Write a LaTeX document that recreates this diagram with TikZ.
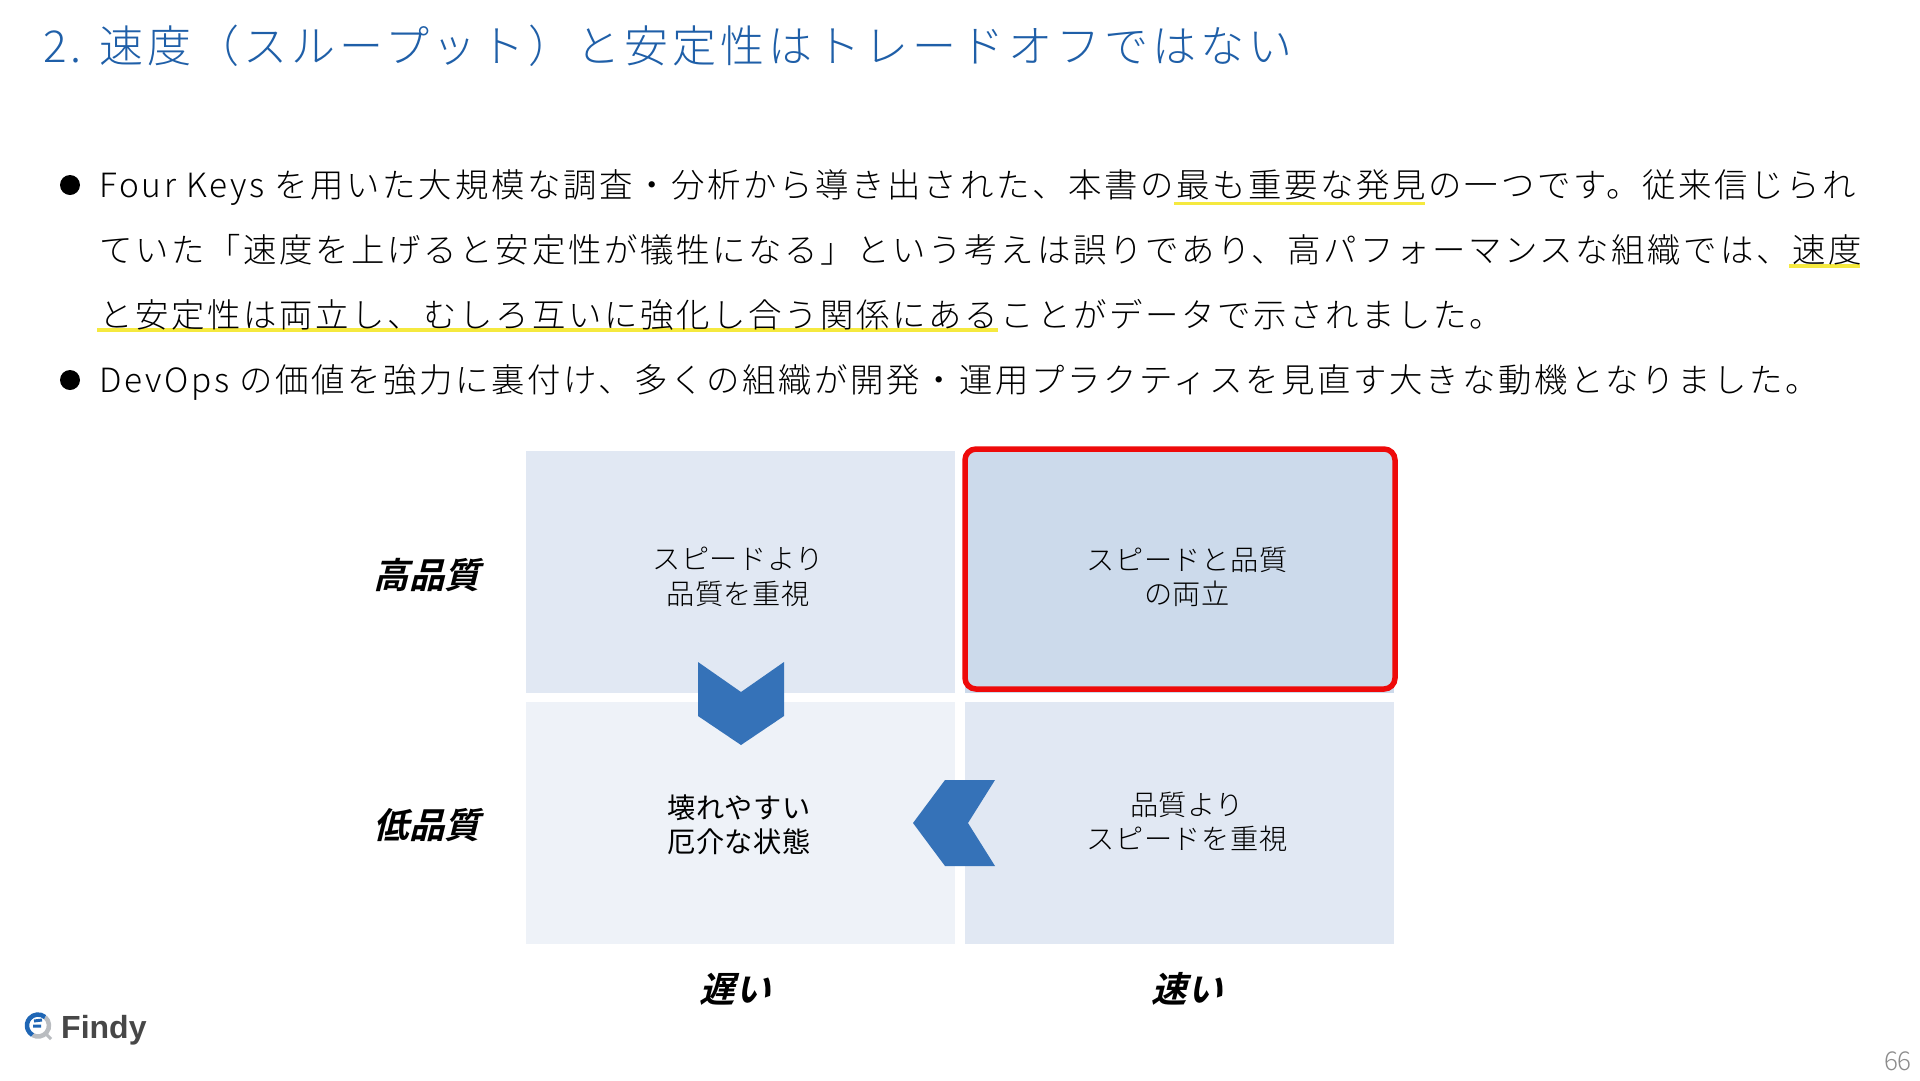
\documentclass[tikz,border=0pt]{standalone}
\usepackage{fontspec}
\setmainfont{Noto Sans CJK JP}[UprightFont=* Light,BoldFont=* Bold]
\newfontfamily\labelfont{Noto Sans CJK JP Bold}[FakeSlant=0.25]
\newfontfamily\logofont{Liberation Sans Bold}
\newfontfamily\bodyfont{Noto Sans CJK JP Light}[LetterSpace=8]
\newfontfamily\titlefont{Noto Sans CJK JP Light}[LetterSpace=9]
\newfontfamily\cellfont{Noto Sans CJK JP Light}[LetterSpace=2]
\newfontfamily\cellregular{Noto Sans CJK JP}[LetterSpace=2]
\definecolor{titleblue}{HTML}{1F5FA8}
\definecolor{cellmid}{HTML}{E1E8F3}
\definecolor{celldark}{HTML}{CCDAEB}
\definecolor{celllight}{HTML}{EEF2F8}
\definecolor{chev}{HTML}{3572B8}
\definecolor{marker}{HTML}{F5E93F}
\definecolor{redframe}{HTML}{EE0A0A}
\definecolor{logoblue}{HTML}{1F66B5}
\definecolor{logogray}{HTML}{B9BCC0}
\tikzset{
 bodyline/.style={anchor=base west,inner sep=0pt,font=\bodyfont\fontsize{33.4}{40}\selectfont,text=black},
 cell/.style={minimum width=429pt,minimum height=242pt,inner sep=0pt,draw=none},
 celltext/.style={align=center,inner sep=0pt,font=\cellfont\fontsize{28.2}{34.5}\selectfont},
 celltextstrong/.style={align=center,inner sep=0pt,font=\cellregular\fontsize{28.2}{34.5}\selectfont},
 axislabel/.style={inner sep=0pt,font=\labelfont\fontsize{35.5}{38}\selectfont},
 marked/.style={draw=marker,line width=3.5pt},
 chevron/.style={fill=chev,draw=none},
 bulletdot/.style={circle,fill=black,minimum size=20pt,inner sep=0pt},
}
\begin{document}
\begin{tikzpicture}[x=1pt,y=-1pt]
\useasboundingbox (0,0) rectangle (1920,1080);
\fill[white] (0,0) rectangle (1920,1080);
\node[anchor=base west,inner sep=0pt,text=titleblue,font=\titlefont\fontsize{44}{48}\selectfont] (title) at (43,62) {2. 速度（スループット）と安定性はトレードオフではない};

\draw[marked] (1174,203.5) -- (1425,203.5);
\draw[marked] (1789,266) -- (1860,266);
\draw[marked] (97,330) -- (998,330);

\node[bulletdot] (b1) at (70,185) {};
\node[bulletdot] (b2) at (70,380) {};
\node[bodyline] (l1) at (99,197) {Four Keys を用いた大規模な調査・分析から導き出された、本書の最も重要な発見の一つです。従来信じられ};
\node[bodyline] (l2) at (99,262.5) {ていた「速度を上げると安定性が犠牲になる」という考えは誤りであり、高パフォーマンスな組織では、速度};
\node[bodyline] (l3) at (99,327) {と安定性は両立し、むしろ互いに強化し合う関係にあることがデータで示されました。};
\node[bodyline] (l4) at (99,392) {DevOps の価値を強力に裏付け、多くの組織が開発・運用プラクティスを見直す大きな動機となりました。};

\node[cell,fill=cellmid] (tl) at (740.5,572) {};
\node[cell,fill=celldark] (tr) at (1179.5,572) {};
\node[cell,fill=celllight] (bl) at (740.5,823) {};
\node[cell,fill=cellmid] (br) at (1179.5,823) {};
\draw[redframe,line width=5.5pt,rounded corners=11pt] (965,449) rectangle (1395,689);

\fill[chevron] (698,662) -- (741,692) -- (784,662) -- (784,716) -- (741,745) -- (698,716) -- cycle;
\fill[chevron] (995,780) -- (968,823) -- (995,866) -- (945,866) -- (913,823) -- (945,780) -- cycle;

\node[celltext] (ttl) at (738,577) {スピードより\\品質を重視};
\node[celltext] (ttr) at (1187,577) {スピードと品質\\の両立};
\node[celltextstrong] (tbl) at (739,825) {壊れやすい\\厄介な状態};
\node[celltext] (tbr) at (1187,822) {品質より\\スピードを重視};

\node[axislabel] (hq) at (427,575) {高品質};
\node[axislabel] (lq) at (427,825) {低品質};
\node[axislabel] (slow) at (735,989) {遅い};
\node[axislabel] (fast) at (1187,989) {速い};

\draw[line width=4.5pt,logogray] (38,1025.5) ++(-50:11) arc (-50:120:11);
\draw[line width=3pt,logogray] (45,1033) -- (51,1039);
\draw[line width=4.5pt,logoblue] (38,1025.5) ++(-50:11) arc (-50:-240:11);
\draw[line width=3pt,logoblue] (33,1026) -- (41,1026) (34,1021) -- (42,1020);
\node[anchor=base west,inner sep=0pt,text=black!72,font=\logofont\fontsize{32}{34}\selectfont] (logo) at (61,1038) {Findy};
\node[anchor=east,inner sep=0pt,text=black!45,font=\fontsize{26}{28}\selectfont] (page) at (1912,1061) {66};
\end{tikzpicture}
\end{document}
